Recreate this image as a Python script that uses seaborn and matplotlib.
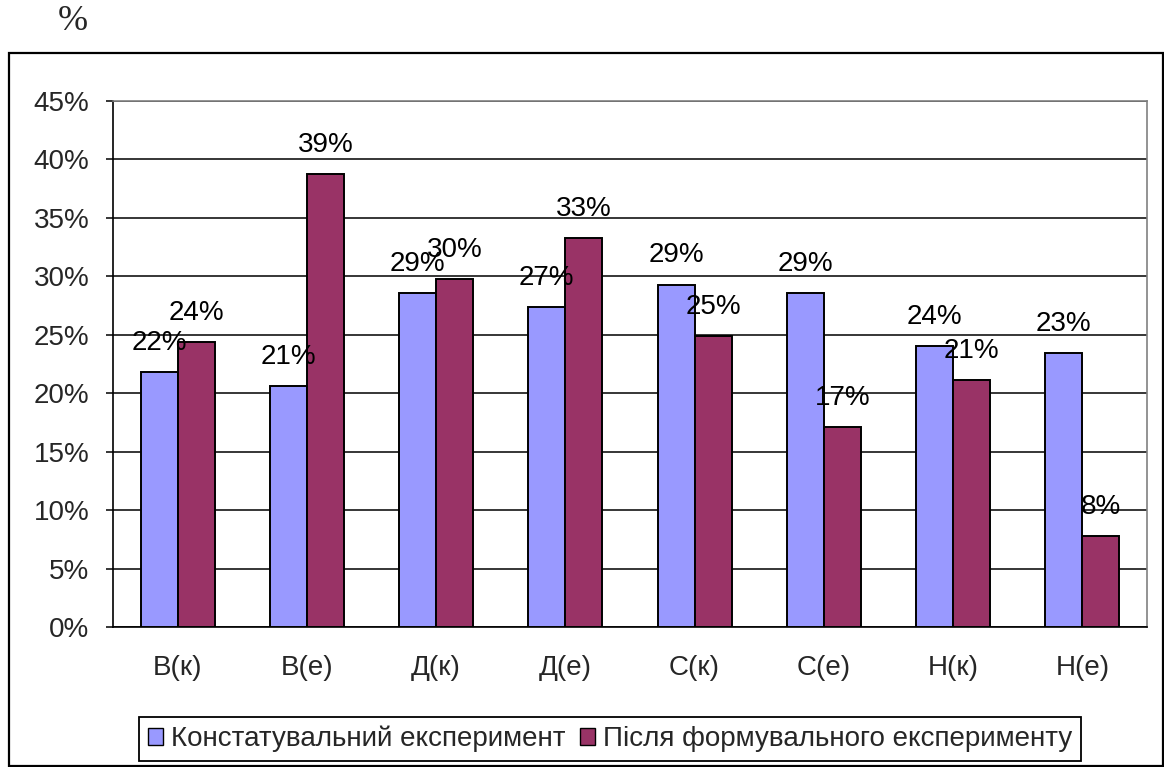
import matplotlib
matplotlib.use("Agg")
import matplotlib.pyplot as plt
import matplotlib.patches as mpatches
import seaborn as sns
import pandas as pd

categories = ["В(к)", "В(е)", "Д(к)", "Д(е)", "С(к)", "С(е)", "Н(к)", "Н(е)"]
series_names = ["Констатувальний експеримент", "Після формувального експерименту"]
constat = [21.8, 20.6, 28.6, 27.4, 29.3, 28.6, 24.0, 23.4]
after = [24.4, 38.75, 29.8, 33.3, 24.9, 17.1, 21.1, 7.8]
y_ticks = [0, 5, 10, 15, 20, 25, 30, 35, 40, 45]
colors = ["#9999FF", "#993366"]

sns.set_style("white")
plt.rcParams["font.family"] = ["Liberation Sans", "DejaVu Sans"]

df = pd.DataFrame({
    "cat": categories * 2,
    "val": constat + after,
    "series": [series_names[0]] * len(categories) + [series_names[1]] * len(categories),
})

fig = plt.figure(figsize=(11.64, 7.67), dpi=100)
ax = fig.add_axes([113 / 1164, 1 - 627 / 767, (1147 - 113) / 1164, (627 - 101) / 767])

sns.barplot(data=df, x="cat", y="val", hue="series", order=categories,
            hue_order=series_names, palette=colors, width=0.573, gap=0,
            saturation=1, edgecolor="black", linewidth=1.4, legend=False, ax=ax,
            zorder=3)

fs = 20
for cont in ax.containers:
    for bar in cont:
        h = bar.get_height()
        ax.annotate(f"{h:.0f}%", (bar.get_x() + bar.get_width() / 2, h),
                    xytext=(0, 21), textcoords="offset points",
                    ha="center", va="center", fontsize=fs, color="black", zorder=5)

ax.set_ylim(0, 45)
ax.set_xlim(-0.5, len(categories) - 0.5)
ax.set_yticks(y_ticks)
ax.set_yticklabels([f"{t}%" for t in y_ticks], fontsize=fs)
ax.set_xticks(range(len(categories)))
ax.set_xticklabels(categories, fontsize=fs)
ax.set_xticks([i - 0.5 for i in range(len(categories) + 1)], minor=True)
ax.tick_params(axis="x", which="major", length=0, pad=20)
ax.tick_params(axis="x", which="minor", length=5, width=1.1, direction="out", color="black")
ax.tick_params(axis="y", which="major", length=5, width=1.1, direction="out", color="black", pad=12, left=True)
ax.set_xlabel("")
ax.set_ylabel("")

ax.grid(axis="y", color="black", linewidth=1.1)
ax.grid(axis="x", visible=False)
ax.set_axisbelow(True)
for s in ["left", "bottom"]:
    ax.spines[s].set_color("black")
    ax.spines[s].set_linewidth(1.2)
for s in ["top", "right"]:
    ax.spines[s].set_visible(True)
    ax.spines[s].set_color("#808080")
    ax.spines[s].set_linewidth(1.2)

handles = [mpatches.Patch(facecolor=c, edgecolor="black", linewidth=1.0) for c in colors]
leg = fig.legend(handles, series_names, loc="center", bbox_to_anchor=(610 / 1164, 1 - 739 / 767),
                 ncol=2, fontsize=fs, frameon=True, fancybox=False, framealpha=1,
                 edgecolor="black", handlelength=0.55, handleheight=0.55, handletextpad=0.3,
                 columnspacing=0.5, borderpad=0.3, borderaxespad=0)
leg.get_frame().set_linewidth(1.3)

fig.text(73 / 1164, 1 - 22 / 767, "%", fontsize=26, family=["Liberation Serif", "DejaVu Serif"],
         ha="center", va="center")

border = mpatches.Rectangle((9 / 1164, 1 / 767), (1163 - 9) / 1164, (766 - 53) / 767,
                            transform=fig.transFigure, fill=False, edgecolor="black",
                            linewidth=1.6)
fig.patches.append(border)

fig.savefig("out.png", dpi=100)
